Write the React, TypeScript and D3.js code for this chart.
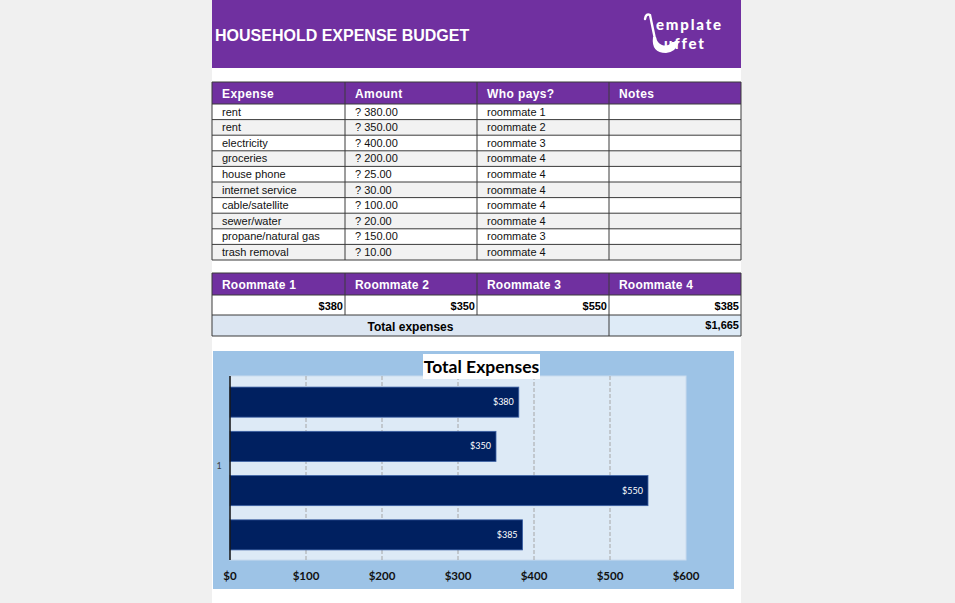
import React from "react";
import * as d3 from "d3";

const expenseHeaders = ["Expense", "Amount", "Who pays?", "Notes"];
const expenses = ["rent", "rent", "electricity", "groceries", "house phone", "internet service", "cable/satellite", "sewer/water", "propane/natural gas", "trash removal"];
const amounts = [380, 350, 400, 200, 25, 30, 100, 20, 150, 10];
const payers = ["roommate 1", "roommate 2", "roommate 3", "roommate 4", "roommate 4", "roommate 4", "roommate 4", "roommate 4", "roommate 3", "roommate 4"];

const roommates = ["Roommate 1", "Roommate 2", "Roommate 3", "Roommate 4"];
const roommateTotals = [380, 350, 550, 385];
const xTicks = [0, 100, 200, 300, 400, 500, 600];
const chartCategory = "1";

const W = 955, H = 603;
const SHEET_L = 212, SHEET_R = 741;
const colX = [212, 345, 477, 609, 741];
const PURPLE = "#7030a0";
const TBL_FONT = "'Liberation Sans', Arial, sans-serif";
const CH_FONT = "Lato, 'Open Sans', sans-serif";

export default function App() {
  const money0 = (v: number) => "$" + d3.format(",")(v);
  const amt = (v: number) => "? " + d3.format(".2f")(v);

  // expense table
  const tTop = 82, hdrH = 22, rowH = 15.6;
  const rowsTop = tTop + hdrH;

  // roommate table
  const rTop = 273, rHdrB = 295, rRowB = 315, rTotB = 336;

  // chart
  const cL = 213, cR = 734, cT = 351, cB = 589;
  const pL = 230, pR = 686, pT = 376, pB = 560;
  const x = d3.scaleLinear().domain([0, 600]).range([pL, pR]);
  const y = d3.scaleBand<string>().domain(roommates).range([380, 557]).paddingInner(0.32).paddingOuter(0.16);

  const total = d3.sum(roommateTotals);

  return (
    <svg width={W} height={H} style={{ position: "fixed", left: 0, top: 0 }}>
      <rect x={0} y={0} width={W} height={H} fill="#f0f0f0" />
      <rect x={SHEET_L} y={0} width={SHEET_R - SHEET_L} height={H} fill="#ffffff" />

      {/* Header band */}
      <rect x={SHEET_L} y={0} width={SHEET_R - SHEET_L} height={68} fill={PURPLE} />
      <text x={215} y={41} fill="#fff" fontFamily={TBL_FONT} fontWeight="bold" fontSize={16}>HOUSEHOLD EXPENSE BUDGET</text>
      {/* logo */}
      <g fill="none" stroke="#fff" strokeLinecap="round">
        <path d="M 645 19 Q 646 13 650 15 L 655 39" strokeWidth={2.4} />
      </g>
      <path d="M 653 37 Q 651 53 666 53 Q 676 52 679 42 L 672 42 Q 668 47 662 45 Q 657 43 656 37 Z" fill="#fff" />
      <text x={656} y={30} fill="#fff" fontFamily={CH_FONT} fontWeight="900" fontSize={15} letterSpacing={1.8}>emplate</text>
      <text x={664} y={49} fill="#fff" fontFamily={CH_FONT} fontWeight="900" fontSize={15} letterSpacing={1.8}>uffet</text>

      {/* Expense table */}
      <rect x={SHEET_L} y={tTop} width={SHEET_R - SHEET_L} height={hdrH} fill={PURPLE} />
      {expenseHeaders.map((h, i) => (
        <text key={h} x={colX[i] + 10} y={tTop + 16} fill="#fff" fontFamily={TBL_FONT} fontWeight="bold" fontSize={12} letterSpacing={0.4}>{h}</text>
      ))}
      {expenses.map((e, i) => {
        const ry = rowsTop + i * rowH;
        return (
          <g key={i}>
            <rect x={SHEET_L} y={ry} width={SHEET_R - SHEET_L} height={rowH} fill={i % 2 === 1 ? "#f2f2f2" : "#ffffff"} />
            <text x={colX[0] + 10} y={ry + 11.5} fontFamily={TBL_FONT} fontSize={11} fill="#111">{e}</text>
            <text x={colX[1] + 10} y={ry + 11.5} fontFamily={TBL_FONT} fontSize={11} fill="#111">{amt(amounts[i])}</text>
            <text x={colX[2] + 10} y={ry + 11.5} fontFamily={TBL_FONT} fontSize={11} fill="#111">{payers[i]}</text>
          </g>
        );
      })}
      {d3.range(expenses.length + 1).map((i) => (
        <line key={"h" + i} x1={SHEET_L} x2={SHEET_R} y1={rowsTop + i * rowH} y2={rowsTop + i * rowH} stroke="#3a3a3a" strokeWidth={1} />
      ))}
      <line x1={SHEET_L} x2={SHEET_R} y1={tTop} y2={tTop} stroke="#3a3a3a" />
      {colX.map((cx, i) => (
        <line key={"v" + i} x1={cx} x2={cx} y1={tTop} y2={rowsTop + expenses.length * rowH} stroke="#3a3a3a" strokeWidth={1} />
      ))}

      {/* Roommate table */}
      <rect x={SHEET_L} y={rTop} width={SHEET_R - SHEET_L} height={rHdrB - rTop} fill={PURPLE} />
      {roommates.map((r, i) => (
        <text key={r} x={colX[i] + 10} y={rTop + 16} fill="#fff" fontFamily={TBL_FONT} fontWeight="bold" fontSize={12} letterSpacing={0.2}>{r}</text>
      ))}
      {roommateTotals.map((v, i) => (
        <text key={i} x={colX[i + 1] - 2} y={rRowB - 5} textAnchor="end" fontFamily={TBL_FONT} fontWeight="bold" fontSize={11} fill="#000">{money0(v)}</text>
      ))}
      <rect x={colX[0]} y={rRowB} width={colX[3] - colX[0]} height={rTotB - rRowB} fill="#dce6f2" />
      <rect x={colX[3]} y={rRowB} width={colX[4] - colX[3]} height={rTotB - rRowB} fill="#deebf7" />
      <text x={(colX[0] + colX[3]) / 2} y={rTotB - 5} textAnchor="middle" fontFamily={TBL_FONT} fontWeight="bold" fontSize={12} fill="#000">Total expenses</text>
      <text x={colX[4] - 2} y={rTotB - 7} textAnchor="end" fontFamily={TBL_FONT} fontWeight="bold" fontSize={11} fill="#000">{money0(total)}</text>
      {[rTop, rHdrB, rRowB, rTotB].map((yy, i) => (
        <line key={"rh" + i} x1={SHEET_L} x2={SHEET_R} y1={yy} y2={yy} stroke="#3a3a3a" />
      ))}
      {colX.map((cx, i) => (
        <line key={"rv" + i} x1={cx} x2={cx} y1={rTop} y2={i === 1 || i === 2 ? rRowB : rTotB} stroke="#3a3a3a" />
      ))}

      {/* Chart */}
      <rect x={cL} y={cT} width={cR - cL} height={cB - cT} fill="#9dc3e6" />
      <rect x={pL} y={pT} width={pR - pL} height={pB - pT} fill="#ddeaf6" stroke="#c9dbee" strokeWidth={1} />
      {xTicks.slice(1, -1).map((t) => (
        <line key={"g" + t} x1={x(t)} x2={x(t)} y1={pT} y2={pB} stroke="#a6a6a6" strokeWidth={1} strokeDasharray="4,2" />
      ))}
      {roommates.map((r, i) => (
        <g key={r}>
          <rect x={x(0)} y={y(r)!} width={x(roommateTotals[i]) - x(0)} height={y.bandwidth()} fill="#002060" stroke="#3d62a5" strokeWidth={0.8} />
          <text x={x(roommateTotals[i]) - 5} y={y(r)! + y.bandwidth() / 2 + 3} textAnchor="end" fill="#fff" fontFamily={CH_FONT} fontSize={9}>{money0(roommateTotals[i])}</text>
        </g>
      ))}
      <line x1={pL} x2={pL} y1={pT} y2={pB} stroke="#111" strokeWidth={1.5} />
      <text x={219} y={469} textAnchor="middle" fontFamily={CH_FONT} fontSize={9} fill="#404040">{chartCategory}</text>
      {xTicks.map((t) => (
        <text key={"t" + t} x={x(t)} y={580} textAnchor="middle" fontFamily={CH_FONT} fontWeight="bold" fontSize={11.5} fill="#111">{money0(t)}</text>
      ))}
      <rect x={423} y={354} width={117} height={25} fill="#fff" />
      <text x={481.5} y={373} textAnchor="middle" fontFamily={CH_FONT} fontWeight="bold" fontSize={17.5} fill="#000">Total Expenses</text>
    </svg>
  );
}
